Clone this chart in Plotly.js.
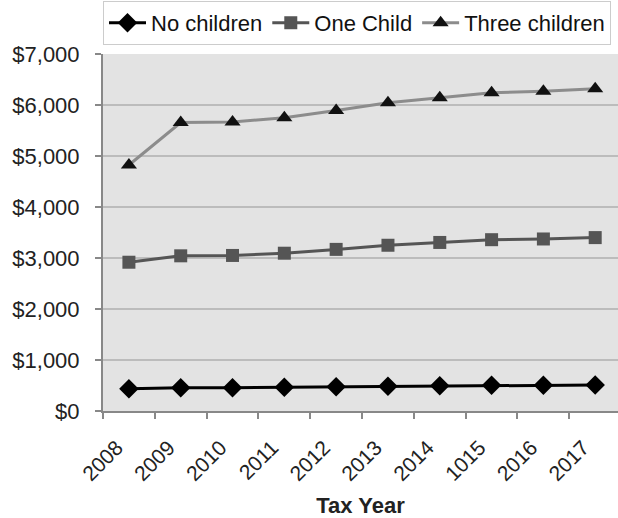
<!DOCTYPE html>
<html>
<head>
<meta charset="utf-8">
<script src="https://cdn.plot.ly/plotly-3.0.1.min.js"></script>
<style>html,body{margin:0;padding:0;background:#fff;}#chart{width:618px;height:518px;}</style>
</head>
<body>
<div id="chart"></div>
<script>
const years = ["2008","2009","2010","2011","2012","2013","2014","1015","2016","2017"];
const noChildren = [438, 457, 457, 464, 475, 487, 496, 503, 506, 510];
const oneChild = [2917, 3043, 3050, 3094, 3169, 3250, 3305, 3359, 3373, 3400];
const threeChildren = [4824, 5657, 5666, 5751, 5891, 6044, 6143, 6242, 6269, 6318];
const yTicks = [0, 1000, 2000, 3000, 4000, 5000, 6000, 7000];
const yTickText = ["$0","$1,000","$2,000","$3,000","$4,000","$5,000","$6,000","$7,000"];

const traces = [
  {x: years, y: noChildren, name: "No children", type: "scatter", mode: "lines+markers",
   line: {color: "#000000", width: 3}, marker: {symbol: "diamond", size: 15, color: "#000000"}},
  {x: years, y: oneChild, name: "One Child", type: "scatter", mode: "lines+markers",
   line: {color: "#555555", width: 3}, marker: {symbol: "square", size: 13, color: "#555555"}},
  {x: years, y: threeChildren, name: "Three children", type: "scatter", mode: "lines+markers",
   line: {color: "#8c8c8c", width: 3}, marker: {symbol: "triangle-up", size: 14, color: "#111111"}}
];

const layout = {
  width: 618, height: 518,
  margin: {l: 103, r: 0, t: 54, b: 107},
  paper_bgcolor: "#ffffff",
  plot_bgcolor: "#e3e3e3",
  font: {family: "Liberation Sans, Arial, sans-serif", color: "#222", size: 21},
  showlegend: true,
  legend: {orientation: "h", x: 0, xanchor: "left", y: 1.087, yanchor: "middle",
    bordercolor: "#cccccc", borderwidth: 1, bgcolor: "#ffffff",
    font: {size: 22, color: "#111"}, itemwidth: 37, tracegroupgap: 0},
  xaxis: {type: "category", range: [-0.5, 9.44], tickson: "boundaries",
    ticks: "outside", ticklen: 6, tickcolor: "#888", tickwidth: 2,
    showline: true, linecolor: "#888", linewidth: 2, showgrid: false,
    tickangle: -45, tickfont: {size: 21, color: "#222"},
    ticklabelshift: -12, ticklabelstandoff: 14,
    title: {text: "Tax Year", font: {size: 22, color: "#222", family: "Liberation Sans, Arial, sans-serif", weight: "bold"}, standoff: 18}},
  yaxis: {range: [0, 7000], tickvals: yTicks, ticktext: yTickText,
    ticks: "outside", ticklen: 6, tickcolor: "#888", tickwidth: 2,
    showline: true, linecolor: "#888", linewidth: 2,
    showgrid: true, gridcolor: "#bcbcbc", gridwidth: 2, zeroline: false,
    tickfont: {size: 22, color: "#222"}, ticklabelstandoff: 11}
};

Plotly.newPlot("chart", traces, layout, {displayModeBar: false, staticPlot: true});
</script>
</body>
</html>
